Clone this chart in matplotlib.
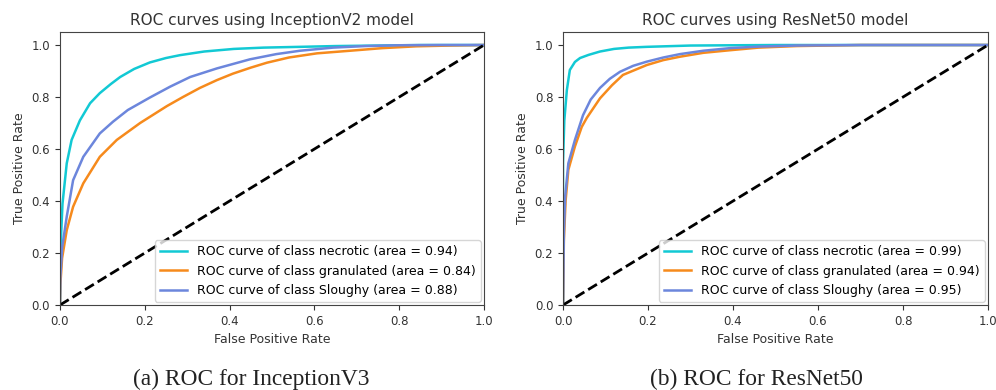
import matplotlib
matplotlib.use("Agg")
import matplotlib.pyplot as plt
from matplotlib.ticker import FormatStrFormatter

# ---------------- data ----------------
classes = ["necrotic", "granulated", "Sloughy"]
colors = ["#12c9d4", "#f68a1c", "#6c86dc"]

# InceptionV3 panel
inc_auc = [0.94, 0.84, 0.88]
inc_necrotic_fpr = [0, 0.001, 0.003, 0.006, 0.016, 0.0275, 0.047, 0.071, 0.094, 0.12, 0.142, 0.175, 0.212, 0.25, 0.283, 0.34, 0.41, 0.48, 0.566, 0.65, 0.75, 0.85, 1.0]
inc_necrotic_tpr = [0, 0.15, 0.28, 0.39, 0.545, 0.635, 0.71, 0.776, 0.815, 0.85, 0.877, 0.908, 0.933, 0.950, 0.961, 0.975, 0.985, 0.99, 0.993, 0.996, 0.998, 1.0, 1.0]
inc_granulated_fpr = [0, 0.001, 0.005, 0.016, 0.031, 0.055, 0.094, 0.134, 0.189, 0.252, 0.29, 0.33, 0.37, 0.408, 0.45, 0.488, 0.54, 0.606, 0.684, 0.76, 0.84, 0.92, 1.0]
inc_granulated_tpr = [0, 0.08, 0.18, 0.288, 0.378, 0.468, 0.57, 0.635, 0.70, 0.765, 0.80, 0.835, 0.865, 0.89, 0.913, 0.932, 0.952, 0.968, 0.978, 0.988, 0.995, 0.998, 1.0]
inc_sloughy_fpr = [0, 0.001, 0.005, 0.016, 0.031, 0.055, 0.094, 0.125, 0.16, 0.212, 0.26, 0.307, 0.37, 0.448, 0.51, 0.566, 0.644, 0.72, 0.80, 0.90, 1.0]
inc_sloughy_tpr = [0, 0.11, 0.22, 0.34, 0.48, 0.57, 0.66, 0.705, 0.75, 0.798, 0.84, 0.877, 0.91, 0.945, 0.965, 0.978, 0.99, 0.996, 0.999, 1.0, 1.0]

# ResNet50 panel
res_auc = [0.99, 0.94, 0.95]
res_necrotic_fpr = [0, 0.0, 0.003, 0.009, 0.016, 0.028, 0.04, 0.06, 0.087, 0.12, 0.154, 0.197, 0.30, 0.50, 1.0]
res_necrotic_tpr = [0, 0.55, 0.71, 0.827, 0.904, 0.935, 0.95, 0.962, 0.975, 0.985, 0.99, 0.993, 0.998, 1.0, 1.0]
res_granulated_fpr = [0, 0.002, 0.006, 0.0125, 0.028, 0.044, 0.056, 0.087, 0.115, 0.141, 0.197, 0.236, 0.275, 0.33, 0.393, 0.46, 0.55, 0.70, 1.0]
res_granulated_tpr = [0, 0.25, 0.40, 0.52, 0.61, 0.685, 0.72, 0.795, 0.845, 0.885, 0.923, 0.942, 0.955, 0.97, 0.98, 0.99, 0.996, 1.0, 1.0]
res_sloughy_fpr = [0, 0.002, 0.005, 0.0125, 0.028, 0.047, 0.065, 0.087, 0.11, 0.134, 0.165, 0.197, 0.236, 0.275, 0.33, 0.393, 0.46, 0.55, 0.70, 1.0]
res_sloughy_tpr = [0, 0.28, 0.417, 0.545, 0.635, 0.73, 0.79, 0.835, 0.87, 0.897, 0.92, 0.936, 0.952, 0.965, 0.978, 0.988, 0.994, 0.998, 1.0, 1.0]

panels = [
    ("ROC curves using InceptionV2 model", "(a) ROC for InceptionV3", inc_auc,
     [(inc_necrotic_fpr, inc_necrotic_tpr), (inc_granulated_fpr, inc_granulated_tpr), (inc_sloughy_fpr, inc_sloughy_tpr)]),
    ("ROC curves using ResNet50 model", "(b) ROC for ResNet50", res_auc,
     [(res_necrotic_fpr, res_necrotic_tpr), (res_granulated_fpr, res_granulated_tpr), (res_sloughy_fpr, res_sloughy_tpr)]),
]

fig = plt.figure(figsize=(9.96, 3.9), dpi=100)
axes_rects = [[0.0602, 0.2179, 0.4258, 0.700], [0.5653, 0.2179, 0.4267, 0.700]]
caption_x = [0.252, 0.759]

tick_color = "#333333"
for rect, cx, (title, caption, aucs, curves) in zip(axes_rects, caption_x, panels):
    ax = fig.add_axes(rect)
    for (fpr, tpr), name, c, a in zip(curves, classes, colors, aucs):
        ax.plot(fpr, tpr, color=c, lw=1.8, solid_joinstyle="round",
                label="ROC curve of class {0} (area = {1:0.2f})".format(name, a))
    ax.plot([0, 1], [0, 1], "k--", lw=2)
    ax.set_xlim(0.0, 1.0)
    ax.set_ylim(0.0, 1.05)
    ax.xaxis.set_major_formatter(FormatStrFormatter("%.1f"))
    ax.yaxis.set_major_formatter(FormatStrFormatter("%.1f"))
    ax.set_xlabel("False Positive Rate", fontsize=9, color=tick_color)
    ax.set_ylabel("True Positive Rate", fontsize=9, color=tick_color)
    ax.set_title(title, fontsize=11, color=tick_color, pad=5)
    ax.tick_params(labelsize=8.5, colors=tick_color)
    for s in ax.spines.values():
        s.set_color("#444444")
    ax.legend(loc="lower right", fontsize=9, handlelength=2.2, framealpha=0.8,
              borderaxespad=0.25)
    fig.text(cx, 0.012, caption, ha="center", va="baseline",
             fontsize=16.8, family="Liberation Serif", color="#222222")

fig.savefig("out.png", dpi=100)
